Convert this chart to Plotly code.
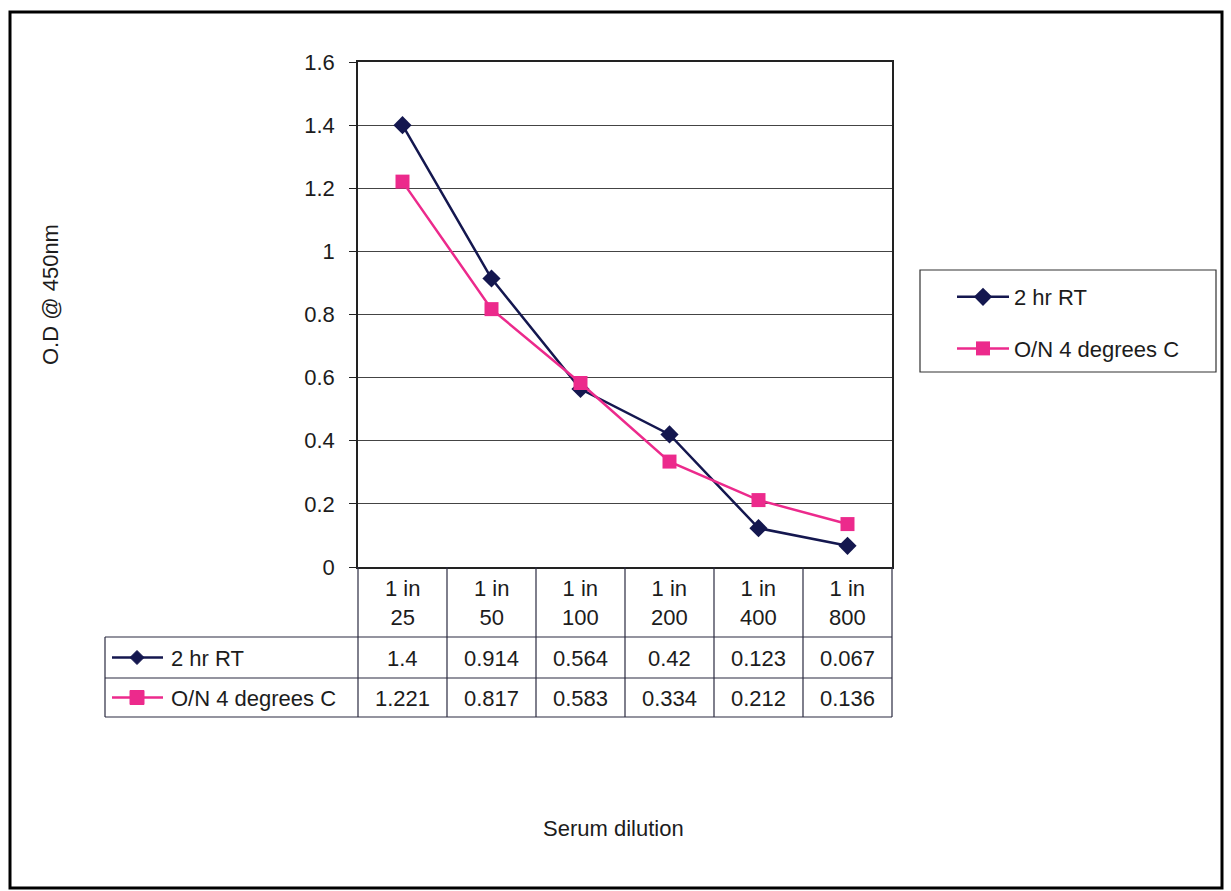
import plotly.graph_objects as go

# ---- data ----
categories = ["1 in 25", "1 in 50", "1 in 100", "1 in 200", "1 in 400", "1 in 800"]
header_labels = ["1 in<br>25", "1 in<br>50", "1 in<br>100", "1 in<br>200", "1 in<br>400", "1 in<br>800"]
series_names = ["2 hr RT", "O/N 4 degrees C"]
rt_2hr = [1.4, 0.914, 0.564, 0.42, 0.123, 0.067]
on_4c = [1.221, 0.817, 0.583, 0.334, 0.212, 0.136]
y_ticks = [0, 0.2, 0.4, 0.6, 0.8, 1, 1.2, 1.4, 1.6]

W, H = 1231, 891
NAVY = "#14174f"
PINK = "#ec2a8c"
FONT = "Liberation Sans, Arial, sans-serif"
FS = 22
TXT = "#1c1c1c"

def px(x):
    return x / W

def py(y):
    return 1 - y / H

# plot area in pixels
PL, PR, PT, PB = 358, 892, 62, 567

fig = go.Figure()
fig.add_trace(go.Scatter(x=categories, y=rt_2hr, name=series_names[0], mode="lines+markers",
                         line=dict(color=NAVY, width=2.5),
                         marker=dict(symbol="diamond", size=14, color=NAVY),
                         legendgroup="a"))
fig.add_trace(go.Scatter(x=categories, y=on_4c, name=series_names[1], mode="lines+markers",
                         line=dict(color=PINK, width=2.5),
                         marker=dict(symbol="square", size=14, color=PINK),
                         legendgroup="b"))

shapes = []
annotations = []

def note(x, y, text, xref="paper", xanchor="center", **kw):
    d = dict(x=x, xref=xref, y=y, yref="paper", text=text, showarrow=False,
             xanchor=xanchor, yanchor="middle",
             font=dict(size=FS, color=TXT, family=FONT))
    d.update(kw)
    annotations.append(d)

# outer frame
shapes.append(dict(type="rect", xref="paper", yref="paper", x0=px(10), x1=px(1222), y0=py(888), y1=py(12),
                   line=dict(color="black", width=3)))
# legend box
shapes.append(dict(type="rect", xref="paper", yref="paper", x0=px(920), x1=px(1216), y0=py(372), y1=py(270),
                   line=dict(color="#333", width=1.2)))

# data table lines
TL, TT, R1, R2, TB = 105, PB, 637, 678, 717
col_edges = [PL + i * (PR - PL) / 6 for i in range(7)]
LC = "#2a2a40"
for yy in [R1, R2, TB]:
    shapes.append(dict(type="line", xref="paper", yref="paper", x0=px(TL), x1=px(PR), y0=py(yy), y1=py(yy),
                       line=dict(color=LC, width=1.2)))
for xe in col_edges:
    shapes.append(dict(type="line", xref="paper", yref="paper", x0=px(xe), x1=px(xe), y0=py(TT), y1=py(TB),
                       line=dict(color=LC, width=1.2)))
shapes.append(dict(type="line", xref="paper", yref="paper", x0=px(TL), x1=px(TL), y0=py(R1), y1=py(TB),
                   line=dict(color=LC, width=1.2)))

# table header
for c, lab in zip(categories, header_labels):
    note(c, py((TT + R1) / 2 + 1), lab, xref="x", align="center")
# table rows
rows = [(rt_2hr, (R1 + R2) / 2 + 1), (on_4c, (R2 + TB) / 2 + 1)]
for vals, yc in rows:
    for c, v in zip(categories, vals):
        note(c, py(yc), f"{v:g}", xref="x")

# row labels with legend keys
for name, yc, color, kind in [(series_names[0], (R1 + R2) / 2, NAVY, "diamond"),
                              (series_names[1], (R2 + TB) / 2, PINK, "square")]:
    shapes.append(dict(type="line", xref="paper", yref="paper", x0=px(112), x1=px(163), y0=py(yc), y1=py(yc),
                       line=dict(color=color, width=2.5)))
    cx = 137
    if kind == "diamond":
        d = 7
        path = f"M {px(cx-d)} {py(yc)} L {px(cx)} {py(yc-d)} L {px(cx+d)} {py(yc)} L {px(cx)} {py(yc+d)} Z"
        shapes.append(dict(type="path", xref="paper", yref="paper", path=path, fillcolor=color,
                           line=dict(color=color, width=1)))
    else:
        d = 7
        shapes.append(dict(type="rect", xref="paper", yref="paper", x0=px(cx - d), x1=px(cx + d),
                           y0=py(yc + d), y1=py(yc - d), fillcolor=color, line=dict(color=color, width=1)))
    note(px(169), py(yc + 1), name, xanchor="left")

# axis titles
note(px(51), py(295), "O.D @ 450nm", textangle=-90)
note(px(613), py(828), "Serum dilution")

fig.update_layout(
    width=W, height=H, autosize=False,
    margin=dict(l=0, r=0, t=0, b=0, pad=0, autoexpand=False),
    paper_bgcolor="white", plot_bgcolor="white",
    font=dict(family=FONT, size=FS, color=TXT),
    xaxis=dict(type="category", categoryorder="array", categoryarray=categories,
               domain=[px(PL), px(PR)], automargin=False,
               range=[-0.5, 5.5], showticklabels=False, showgrid=False, ticks="",
               showline=True, linecolor="#222", linewidth=2, mirror=True, zeroline=False),
    yaxis=dict(range=[0, 1.6], tickvals=y_ticks, ticktext=[f"{v:g}" for v in y_ticks],
               domain=[py(PB), py(PT)], automargin=False,
               showgrid=True, gridcolor="#444", gridwidth=1,
               ticks="outside", ticklen=7, tickcolor="#222", ticklabelstandoff=10,
               showline=True, linecolor="#222", linewidth=1.5, mirror=True, zeroline=False,
               tickfont=dict(size=FS, color=TXT)),
    legend=dict(x=px(952), y=py(276), xanchor="left", yanchor="top", xref="paper", yref="paper",
                bgcolor="rgba(0,0,0,0)", borderwidth=0, tracegroupgap=20, itemwidth=52,
                font=dict(size=FS, color=TXT, family=FONT)),
    shapes=shapes, annotations=annotations,
)

fig.write_html("out.html")
